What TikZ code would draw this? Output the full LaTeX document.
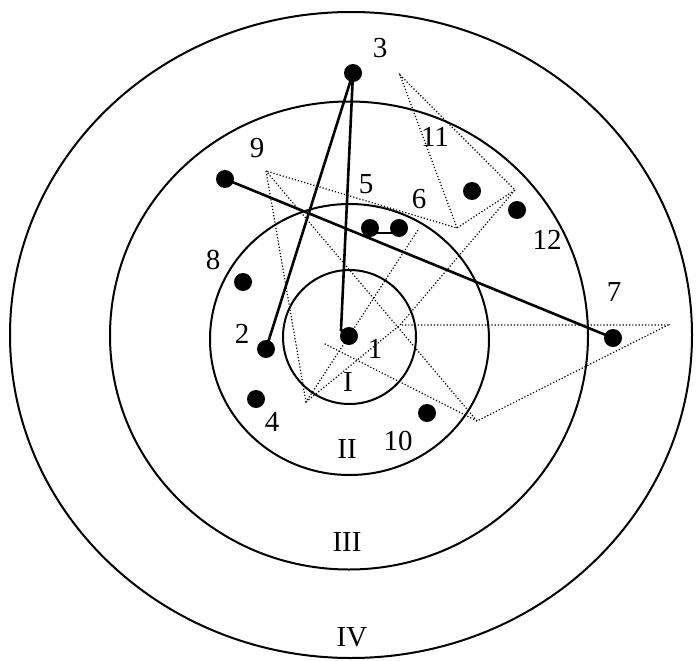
\documentclass[tikz,border=0pt]{standalone}
\usepackage{fontspec}
\setmainfont{Liberation Serif}
\begin{document}
\begin{tikzpicture}[x=1pt,y=-1pt,
  ring/.style={draw=black,line width=2pt},
  dot/.style={circle,fill=black,inner sep=0pt,minimum size=18pt},
  lbl/.style={inner sep=0pt,font=\fontsize{29}{29}\selectfont},
  solidline/.style={draw=black,line width=2.6pt},
  dotline/.style={draw=black,line width=1.2pt,dash pattern=on 1.2pt off 2pt}]
\useasboundingbox (0,0) rectangle (696,661);
\fill[white] (0,0) rectangle (696,661);
% rings
\draw[ring] (351,335) ellipse [x radius=341pt, y radius=323pt];
\draw[ring] (349,335.5) ellipse [x radius=239pt, y radius=234pt];
\draw[ring] (349.5,339.5) ellipse [x radius=139.5pt, y radius=135.5pt];
\draw[ring] (349.5,337) ellipse [x radius=66.5pt, y radius=67pt];
% dotted polygon vertices
\coordinate (p1) at (400,75);
\coordinate (p2) at (457,228);
\coordinate (p3) at (515,190);
\coordinate (p4) at (266,171);
\coordinate (p5) at (400,325);
\coordinate (p6) at (668,325);
\coordinate (p7) at (477,421);
\coordinate (p8) at (323,343);
\coordinate (p9) at (306,402);
\coordinate (p10) at (418,230);
\draw[dotline] (p2) -- (p1) -- (p3) -- (p2) -- (p4);
\draw[dotline] (p3) -- (p5) -- (p6) -- (p7) -- (p4);
\draw[dotline] (p7) -- (p8);
\draw[dotline] (p4) -- (p9) -- (p10);
\draw[dotline] (p9) -- (p5);
% dots
\node[dot] (d1) at (349,336) {};
\node[dot] (d2) at (266,349) {};
\node[dot] (d3) at (353,73) {};
\node[dot] (d4) at (256,399) {};
\node[dot] (d5) at (370,228) {};
\node[dot] (d6) at (399,228) {};
\node[dot] (d7) at (613,338) {};
\node[dot] (d8) at (243,282) {};
\node[dot] (d9) at (225,179) {};
\node[dot] (d10) at (427,413) {};
\node[dot] (d11) at (472,191) {};
\node[dot] (d12) at (517,210) {};
% solid connectors
\coordinate (k1) at (341,330);
\draw[solidline] (d3.center) -- (d2.center);
\draw[solidline] (d3.center) -- (k1) -- (d1.center);
\draw[solidline] (d9.center) -- (d7.center);
\draw[solidline] ([yshift=-5pt]d5.center) -- ([yshift=-5pt]d6.center);
% labels
\node[lbl] (l1) at (375,349) {1};
\node[lbl] (l2) at (242,334) {2};
\node[lbl] (l3) at (380,48) {3};
\node[lbl] (l4) at (272,422) {4};
\node[lbl] (l5) at (366,184) {5};
\node[lbl] (l6) at (419,199) {6};
\node[lbl] (l7) at (614,292) {7};
\node[lbl] (l8) at (213,260) {8};
\node[lbl] (l9) at (257,148) {9};
\node[lbl] (l10) at (398,441) {10};
\node[lbl] (l11) at (435,137) {11};
\node[lbl] (l12) at (547,240) {12};
\node[lbl] (rI) at (348,382) {I};
\node[lbl] (rII) at (347,449) {II};
\node[lbl] (rIII) at (347,542) {III};
\node[lbl] (rIV) at (352,637) {IV};
\end{tikzpicture}
\end{document}
